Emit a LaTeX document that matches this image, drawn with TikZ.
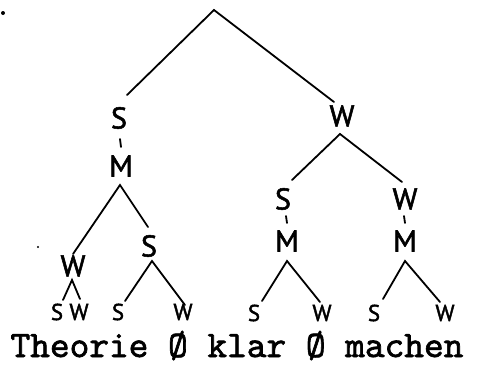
\documentclass[tikz,border=0pt]{standalone}
\usepackage{fontspec}
\setmainfont{Liberation Sans}
\newfontfamily\typewr[Extension=.otf, FakeBold=1.8]{lmmono10-regular}
\newfontfamily\hand[FakeBold=1.8]{PT Sans}
\begin{document}
\begin{tikzpicture}[x=1pt,y=-1pt,
  lab/.style={font=\hand\fontsize{30}{30}\selectfont, inner sep=0pt},
  lowlab/.style={font=\hand\fontsize{23}{23}\selectfont, inner sep=0pt},
  edge/.style={line width=1.8pt, line cap=round},
  tick/.style={line width=1.8pt, line cap=round}]
\useasboundingbox (0,0) rectangle (477,367);
% labels
\node[lab] (s1) at (119,118) {S};
\node[lab] (m1) at (121,166) {M};
\node[lab] (w1) at (342,116) {W};
\node[lab] (w2) at (73,266) {W};
\node[lab] (s2) at (149,246) {S};
\node[lab] (s3) at (283,199) {S};
\node[lab] (m3) at (287,241) {M};
\node[lab] (w4) at (405,199) {W};
\node[lab] (m4) at (405,241) {M};
\node[lowlab] (b1) at (57,312) {S};
\node[lowlab] (b2) at (79,312) {W};
\node[lowlab] (b3) at (118,312) {S};
\node[lowlab] (b4) at (183,312) {W};
\node[lowlab] (b5) at (254,313) {S};
\node[lowlab] (b6) at (322,313) {W};
\node[lowlab] (b7) at (374,313) {S};
\node[lowlab] (b8) at (445,313) {W};
\node[font=\typewr\fontsize{37.5}{38}\selectfont, inner sep=0pt, anchor=base, text height=20pt] (txt) at (237,357) {Theorie Ø klar Ø machen};
% apex and end coordinates
\coordinate (r) at (214,10);
\coordinate (rl) at (127,95);
\coordinate (rr) at (334,102);
\coordinate (m1a) at (120,185);
\coordinate (m1l) at (73,254);
\coordinate (m1r) at (148,227);
\coordinate (w2a) at (72,280);
\coordinate (w2l) at (63,300);
\coordinate (w2r) at (80,299);
\coordinate (s2a) at (152,261);
\coordinate (s2l) at (125,301);
\coordinate (s2r) at (185,305);
\coordinate (w1a) at (340,134);
\coordinate (w1l) at (292,180);
\coordinate (w1r) at (402,182);
\coordinate (m3a) at (287,261);
\coordinate (m3l) at (262,301);
\coordinate (m3r) at (320,302);
\coordinate (m4a) at (405,261);
\coordinate (m4l) at (383,299);
\coordinate (m4r) at (440,302);
\coordinate (t1a) at (120,139);
\coordinate (t1b) at (121,147);
\coordinate (t3a) at (286,216);
\coordinate (t3b) at (287,223);
\coordinate (t4a) at (404,216);
\coordinate (t4b) at (405,223);
% connectors
\draw[edge] (rl) -- (r) -- (rr);
\draw[edge] (m1l) -- (m1a) -- (m1r);
\draw[edge] (w2l) -- (w2a) -- (w2r);
\draw[edge] (s2l) -- (s2a) -- (s2r);
\draw[edge] (w1l) -- (w1a) -- (w1r);
\draw[edge] (m3l) -- (m3a) -- (m3r);
\draw[edge] (m4l) -- (m4a) -- (m4r);
\draw[tick] (t1a) -- (t1b);
\draw[tick] (t3a) -- (t3b);
\draw[tick] (t4a) -- (t4b);
% stray dots
\fill (3,13) circle (2);
\fill (38,247) circle (1.2);
\end{tikzpicture}
\end{document}
